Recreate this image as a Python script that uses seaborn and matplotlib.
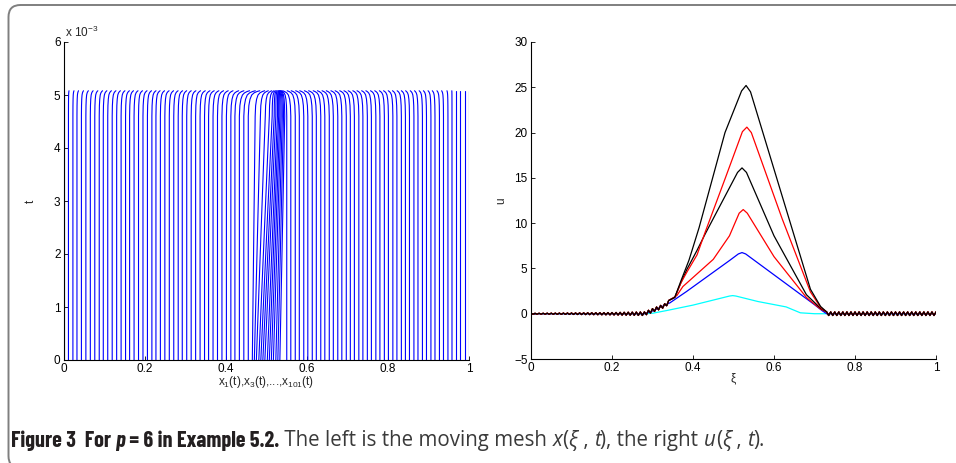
import numpy as np
import pandas as pd
import matplotlib
matplotlib.use("Agg")
import matplotlib.pyplot as plt
import seaborn as sns
from matplotlib.patches import FancyBboxPatch
from matplotlib.text import Annotation

# ---- left panel: mesh trajectories x_i(t) ----
# outer nodes stay put until close to the blow-up time
mesh_left = [0.0, 0.011, 0.022, 0.032, 0.043, 0.054, 0.065, 0.076, 0.087, 0.097,
             0.108, 0.119, 0.130, 0.141, 0.152, 0.162, 0.173, 0.184, 0.195, 0.206,
             0.217, 0.227, 0.238, 0.249, 0.260, 0.271, 0.282, 0.292, 0.303, 0.314,
             0.325, 0.336, 0.347, 0.357, 0.368, 0.379, 0.390, 0.401, 0.412, 0.422,
             0.433, 0.444, 0.455]
mesh_right = [0.550, 0.560, 0.571, 0.581, 0.592, 0.602, 0.613, 0.623, 0.634, 0.644,
              0.655, 0.665, 0.676, 0.686, 0.697, 0.707, 0.717, 0.728, 0.738, 0.749,
              0.759, 0.770, 0.780, 0.791, 0.801, 0.812, 0.822, 0.833, 0.843, 0.853,
              0.864, 0.874, 0.885, 0.895, 0.906, 0.916, 0.927, 0.937, 0.948, 0.958,
              0.969, 0.979, 0.990, 1.0]
# clustered nodes drift from the centre towards the blow-up point
cluster_start = [0.465, 0.470, 0.475, 0.481, 0.486, 0.491, 0.496, 0.502, 0.507,
                 0.512, 0.517, 0.523, 0.528, 0.533]
cluster_end = [0.472, 0.485, 0.497, 0.507, 0.514, 0.519, 0.523, 0.527, 0.530,
               0.533, 0.536, 0.539, 0.542, 0.545]
t_bend = 4.6e-3
hook_t = [4.8e-3, 4.92e-3, 5.0e-3, 5.04e-3, 5.065e-3, 5.08e-3]
hook_frac = [0.05, 0.15, 0.3, 0.5, 0.75, 1.0]
shift_x = [0.0, 0.05, 0.1, 0.3, 0.4, 0.45, 0.5, 0.53, 0.56, 0.6, 0.8, 0.93, 0.96, 1.0]
shift_val = [0.0, 0.006, 0.009, 0.011, 0.016, 0.03, 0.015, 0.0, -0.02, -0.02,
             -0.012, -0.006, 0.0, 0.0]

# ---- right panel: u(xi) at several times ----
cyan_xi = [0.0, 0.28, 0.30, 0.335, 0.40, 0.49, 0.498, 0.506, 0.56, 0.63, 0.665, 0.70, 1.0]
cyan_u = [0.0, 0.0, 0.05, 0.35, 0.95, 1.95, 2.0, 1.95, 1.35, 0.75, 0.1, 0.0, 0.0]
blue_xi = [0.0, 0.28, 0.30, 0.343, 0.384, 0.491, 0.512, 0.521, 0.53, 0.615, 0.70, 0.72, 0.73, 1.0]
blue_u = [0.0, 0.0, 0.3, 1.2, 2.45, 5.9, 6.6, 6.75, 6.6, 3.8, 1.0, 0.3, 0.0, 0.0]
red4_xi = [0.0, 0.28, 0.33, 0.36, 0.375, 0.40, 0.45, 0.49, 0.514, 0.524, 0.534, 0.60, 0.68, 0.715, 0.73, 1.0]
red4_u = [0.0, 0.0, 0.9, 2.0, 3.0, 4.0, 6.0, 8.6, 11.1, 11.5, 11.1, 6.3, 1.8, 0.5, 0.0, 0.0]
black3_xi = [0.0, 0.28, 0.33, 0.355, 0.37, 0.385, 0.41, 0.43, 0.51, 0.521, 0.532, 0.60, 0.68, 0.715, 0.73, 1.0]
black3_u = [0.0, 0.0, 0.9, 1.8, 3.4, 4.9, 7.0, 8.8, 15.6, 16.1, 15.6, 8.6, 2.1, 0.6, 0.0, 0.0]
red2_xi = [0.0, 0.28, 0.33, 0.355, 0.37, 0.385, 0.41, 0.43, 0.48, 0.522, 0.533, 0.544, 0.62, 0.69, 0.715, 0.73, 1.0]
red2_u = [0.0, 0.0, 0.9, 1.8, 3.4, 4.6, 6.5, 9.0, 15.0, 20.1, 20.6, 20.0, 10.5, 2.4, 0.7, 0.0, 0.0]
black1_xi = [0.0, 0.28, 0.33, 0.355, 0.37, 0.39, 0.415, 0.479, 0.52, 0.531, 0.542, 0.69, 0.715, 0.73, 1.0]
black1_u = [0.0, 0.0, 0.9, 1.8, 3.6, 5.9, 9.5, 20.0, 24.6, 25.2, 24.5, 2.7, 0.8, 0.0, 0.0]
# grid-scale wiggle amplitude outside the peak
ripple_xi = [0.0, 0.1, 0.2, 0.28, 0.345, 0.35, 0.725, 0.73, 1.0]
ripple_amp = [0.04, 0.08, 0.13, 0.2, 0.2, 0.0, 0.0, 0.2, 0.2]
n_grid = 201

# ---- build tables ----
rows = []
outer = [(x, x) for x in mesh_left] + [(x, x) for x in mesh_right]
nodes = outer + list(zip(cluster_start, cluster_end))
for k, (x0, x1) in enumerate(nodes):
    s = np.interp(x1, shift_x, shift_val)
    rows.append((k, x0, 0.0))
    rows.append((k, x1, t_bend))
    for tt, fr in zip(hook_t, hook_frac):
        rows.append((k, x1 + fr * s, tt))
mesh_df = pd.DataFrame(rows, columns=["node", "x", "t"])

grid = np.linspace(0, 1, n_grid)
sign = np.where(np.arange(n_grid) % 2 == 0, 1.0, -1.0)
wig = sign * np.interp(grid, ripple_xi, ripple_amp)
outside = (grid < 0.345) | (grid > 0.728)

curves = [("cyan", cyan_xi, cyan_u, False), ("blue", blue_xi, blue_u, False),
          ("red4", red4_xi, red4_u, True), ("black3", black3_xi, black3_u, True),
          ("red2", red2_xi, red2_u, True), ("black1", black1_xi, black1_u, True)]
palette = {"cyan": "#00ffff", "blue": "#0000ff", "red4": "#ff0000",
           "black3": "#000000", "red2": "#ff0000", "black1": "#000000"}
parts = []
for name, xs, us, ripple in curves:
    if ripple:
        xs = np.asarray(xs)
        mid = (xs >= 0.345) & (xs <= 0.728)
        gx = np.concatenate([grid[outside], xs[mid]])
        gu = np.concatenate([np.interp(grid[outside], xs, us) + wig[outside],
                             np.asarray(us)[mid]])
        order = np.argsort(gx)
        gx, gu = gx[order], gu[order]
    else:
        gx, gu = np.asarray(xs), np.asarray(us)
    parts.append(pd.DataFrame({"xi": gx, "u": gu, "curve": name}))
u_df = pd.concat(parts, ignore_index=True)

# ---- figure ----
sns.set_style("ticks", {"xtick.direction": "in", "ytick.direction": "in",
                        "axes.edgecolor": "black"})
plt.rcParams["font.family"] = ["Liberation Sans", "DejaVu Sans"]
plt.rcParams["mathtext.fontset"] = "custom"
plt.rcParams["mathtext.rm"] = "Liberation Sans"
plt.rcParams["mathtext.it"] = "Liberation Sans:italic"

fig = plt.figure(figsize=(9.56, 4.63), dpi=100)
ax1 = fig.add_axes([64 / 956, 1 - 360 / 463, 405 / 956, 318 / 463])
ax2 = fig.add_axes([531 / 956, 1 - 359 / 463, 405 / 956, 317 / 463])

sns.lineplot(data=mesh_df, x="x", y="t", units="node", estimator=None, sort=False,
             color="#0000ff", lw=0.8, ax=ax1, legend=False)
ax1.set_xlim(0, 1)
ax1.set_ylim(0, 6e-3)
ax1.set_xticks([0, 0.2, 0.4, 0.6, 0.8, 1])
ax1.set_xticklabels(["0", "0.2", "0.4", "0.6", "0.8", "1"])
ax1.set_yticks([i * 1e-3 for i in range(7)])
ax1.set_yticklabels([str(i) for i in range(7)])
ax1.text(0.003, 1.006, r"x 10$^{-3}$", transform=ax1.transAxes, fontsize=8.5,
         va="bottom", ha="left", family="Liberation Sans")
ax1.set_xlabel(r"x$_1$(t),x$_3$(t),...,x$_{101}$(t)", fontsize=8.5)
ax1.set_ylabel("t", fontsize=8.5)
ax1.xaxis.set_label_coords(0.5, -0.045)
ax1.yaxis.set_label_coords(-0.066, 0.5)

sns.lineplot(data=u_df, x="xi", y="u", hue="curve", units="curve", estimator=None,
             sort=False, hue_order=[c[0] for c in curves], palette=palette,
             lw=0.9, ax=ax2, legend=False)
ax2.set_xlim(0, 1)
ax2.set_ylim(-5, 30)
ax2.set_xticks([0, 0.2, 0.4, 0.6, 0.8, 1])
ax2.set_xticklabels(["0", "0.2", "0.4", "0.6", "0.8", "1"])
ax2.set_yticks(range(-5, 31, 5))
ax2.set_xlabel("\u03be", fontsize=8.5)
ax2.set_ylabel("u", fontsize=8.5)
ax2.xaxis.set_label_coords(0.5, -0.042)
ax2.yaxis.set_label_coords(-0.058, 0.5)

for ax in (ax1, ax2):
    sns.despine(ax=ax)
    ax.tick_params(length=3, width=0.6, labelsize=8.5, pad=2.5, colors="black")
    for lab in ax.get_xticklabels() + ax.get_yticklabels():
        lab.set_family("Liberation Sans")
    for sp in ("left", "bottom"):
        ax.spines[sp].set_linewidth(0.8)

# caption frame
frame = FancyBboxPatch((0.085, -0.05), 9.8, 4.63,
                       boxstyle="round,pad=0,rounding_size=0.12",
                       transform=fig.dpi_scale_trans, fill=False,
                       edgecolor="#7f7f7f", lw=1.4, clip_on=False)
fig.patches.append(frame)

# caption: condensed bold label, then regular text
bold_fam = ["Barlow Condensed", "Asap Condensed", "Open Sans"]
reg_fam = ["Open Sans", "DejaVu Sans"]
cap = [("Figure 3  For ", "b", "normal"), ("p", "b", "italic"),
       (" = 6 in Example 5.2.", "b", "normal"),
       (" The left is the moving mesh ", "r", "normal"), ("x", "r", "italic"),
       ("(", "r", "normal"), ("\u03be", "r", "italic"), (" , ", "r", "normal"),
       ("t", "r", "italic"), ("), the right ", "r", "normal"),
       ("u", "r", "italic"), ("(", "r", "normal"), ("\u03be", "r", "italic"),
       (" , ", "r", "normal"), ("t", "r", "italic"), (").", "r", "normal")]


def draw_caption(bsize, rsize):
    arts = []
    prev = None
    for s, grp, st in cap:
        kw = dict(fontsize=bsize if grp == "b" else rsize,
                  fontweight="bold" if grp == "b" else "normal", fontstyle=st,
                  family=bold_fam if grp == "b" else reg_fam,
                  color="#231f20" if grp == "b" else "#3a3a3a")
        if prev is None:
            prev = fig.text(11 / 956, 1 - 451 / 463, s, va="bottom", ha="left", **kw)
        else:
            prev = fig.add_artist(Annotation(s, xy=(1, 0), xycoords=prev, va="bottom",
                                             ha="left", annotation_clip=False, **kw))
        arts.append(prev)
    return arts


# both parts share one size, scaled so the line ends where the reference's does
base = 13.0
arts = draw_caption(base * 1.08, base)
fig.canvas.draw()
r = fig.canvas.get_renderer()
r_end = arts[-1].get_window_extent(r).x1
scale = (763 - 11) / (r_end - 11)
for a in arts:
    a.remove()
draw_caption(base * 1.08 * scale, base * scale)

fig.savefig("out.png", dpi=100)
